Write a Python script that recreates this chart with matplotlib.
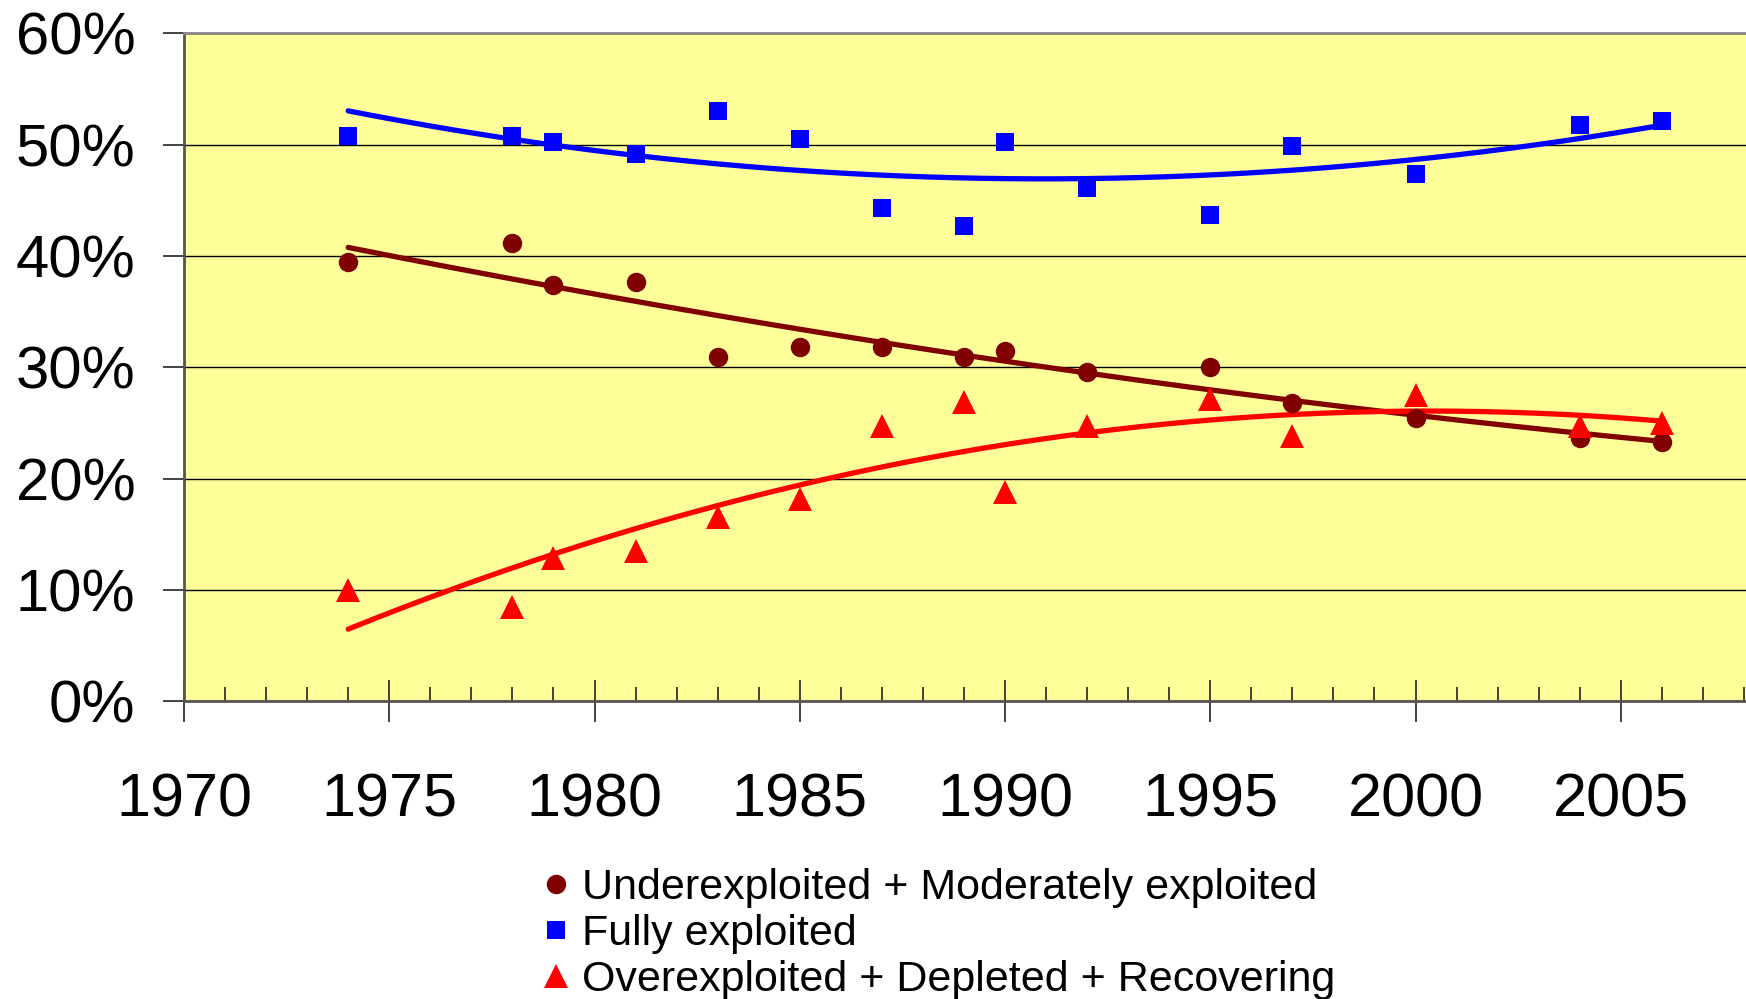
"""Share of assessed fish stocks by exploitation status, 1974-2006."""

import matplotlib.pyplot as plt
import numpy as np
from matplotlib.ticker import MultipleLocator, PercentFormatter

plt.rcParams["font.family"] = ["Liberation Sans", "DejaVu Sans"]

years = [1974, 1978, 1979, 1981, 1983, 1985, 1987, 1989, 1990, 1992, 1995, 1997, 2000, 2004, 2006]
under_moderate = [39.5, 41.2, 37.4, 37.7, 30.9, 31.8, 31.8, 30.9, 31.5, 29.6, 30.0, 26.8, 25.5, 23.7, 23.3]
fully = [50.8, 50.8, 50.2, 49.2, 53.0, 50.5, 44.3, 42.7, 50.2, 46.1, 43.7, 49.9, 47.4, 51.8, 52.1]
over_depleted = [10.0, 8.5, 12.9, 13.5, 16.6, 18.2, 24.7, 26.9, 18.8, 24.7, 27.2, 23.8, 27.5, 24.7, 25.0]

labels = [
    "Underexploited + Moderately exploited",
    "Fully exploited",
    "Overexploited + Depleted + Recovering",
]
colors = ["#800000", "#0000FF", "#FF0000"]
markers = ["o", "s", "^"]
marker_sizes = [14, 13, 17]

fig = plt.figure(figsize=(17.46, 9.99), dpi=100)
ax = fig.add_axes([0.1054, 0.2978, 0.8946, 0.6688])
ax.set_facecolor("#FFFF99")

x = np.array(years, dtype=float)
handles = []
for values, color, marker, ms, label in zip(
    [under_moderate, fully, over_depleted], colors, markers, marker_sizes, labels
):
    # second-order polynomial trend, as in the original spreadsheet chart
    coef = np.polyfit(x, values, 2)
    xs = np.linspace(x.min(), x.max(), 200)
    ax.plot(xs, np.polyval(coef, xs), color=color, lw=3.8, zorder=3, solid_capstyle="round")
    (h,) = ax.plot(x, values, ls="none", marker=marker, color=color, ms=ms, mew=0, zorder=4, label=label)
    handles.append(h)

ax.set_xlim(1970, 2008.05)
ax.set_ylim(0, 60)
ax.xaxis.set_major_locator(MultipleLocator(5))
ax.xaxis.set_minor_locator(MultipleLocator(1))
ax.yaxis.set_major_locator(MultipleLocator(10))
ax.yaxis.set_major_formatter(PercentFormatter(decimals=0))
ax.grid(axis="y", color="black", lw=1.0, zorder=1)
ax.set_axisbelow(True)

ax.tick_params(axis="x", which="major", direction="inout", length=30, width=1.2,
               labelsize=44, pad=36, color="#222222")
ax.tick_params(axis="x", which="minor", direction="in", length=10, width=1.2, color="#222222")
ax.tick_params(axis="y", direction="out", length=15, width=1.2, labelsize=43, pad=20, color="#222222")

for side in ["left", "bottom"]:
    ax.spines[side].set_color("#555555")
    ax.spines[side].set_linewidth(2)
ax.spines["top"].set_color("#888888")
ax.spines["top"].set_linewidth(2)
ax.spines["right"].set_visible(False)

fig.legend(
    handles=handles,
    labels=labels,
    loc="upper left",
    bbox_to_anchor=(0.311, 0.131),
    frameon=False,
    fontsize=31,
    markerscale=1.0,
    handlelength=0.6,
    handletextpad=0.3,
    labelspacing=0.14,
    borderpad=0,
    borderaxespad=0,
)

fig.savefig("out.png", dpi=100)
